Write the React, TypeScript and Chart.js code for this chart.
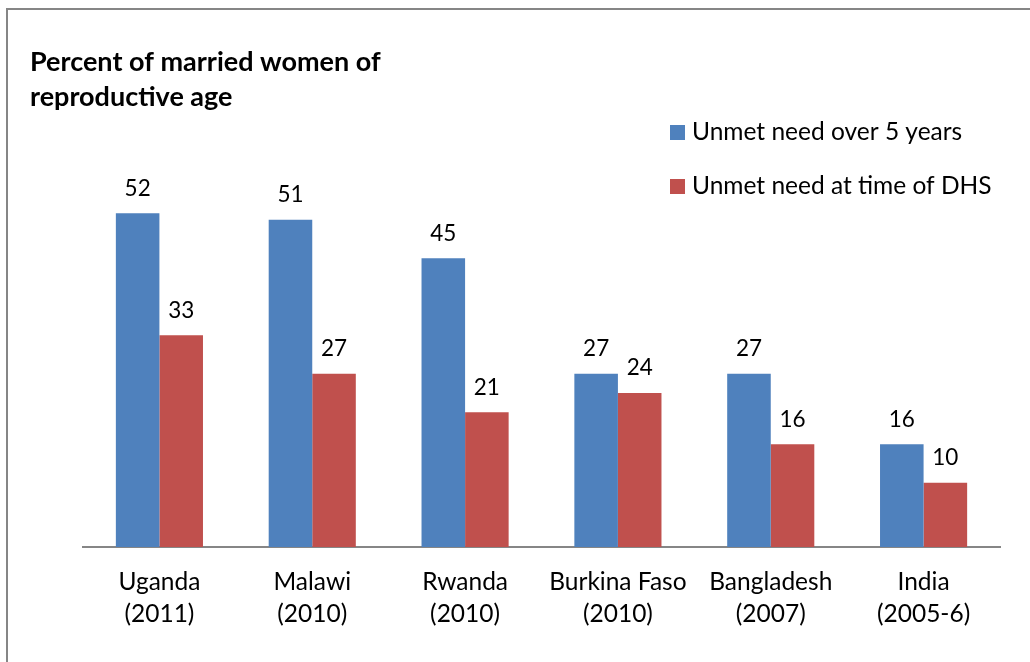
import React, { useEffect, useRef } from "react";
import { Chart, registerables } from "chart.js";

Chart.register(...registerables);

const categories: string[][] = [
  ["Uganda", "(2011)"],
  ["Malawi", "(2010)"],
  ["Rwanda", "(2010)"],
  ["Burkina Faso", "(2010)"],
  ["Bangladesh", "(2007)"],
  ["India", "(2005-6)"],
];
const seriesNames = ["Unmet need over 5 years", "Unmet need at time of DHS"];
const overFiveYears = [52, 51, 45, 27, 27, 16];
const atTimeOfDHS = [33, 27, 21, 24, 16, 10];
const titleLines = ["Percent of married women of", "reproductive age"];
const colors = ["#4F81BD", "#C0504D"];

const FONT = "Lato, 'Open Sans', sans-serif";

const decorPlugin = {
  id: "decor",
  afterDraw(chart: any) {
    const ctx = chart.ctx;
    ctx.save();
    // frame
    ctx.strokeStyle = "#868686";
    ctx.lineWidth = 2;
    ctx.beginPath();
    ctx.moveTo(7, 662);
    ctx.lineTo(7, 9);
    ctx.lineTo(1030, 9);
    ctx.stroke();
    // title
    ctx.fillStyle = "#000";
    ctx.font = `bold 27px ${FONT}`;
    ctx.textAlign = "left";
    ctx.textBaseline = "middle";
    titleLines.forEach((t, i) => ctx.fillText(t, 30, 62 + i * 35));
    // legend
    ctx.font = `24.5px ${FONT}`;
    seriesNames.forEach((n, i) => {
      const cy = 132 + i * 54;
      ctx.fillStyle = colors[i];
      ctx.fillRect(670, cy - 7, 15, 15);
      ctx.fillStyle = "#000";
      ctx.fillText(n, 692, cy);
    });
    // data labels
    ctx.font = `22.5px ${FONT}`;
    ctx.textAlign = "center";
    chart.data.datasets.forEach((ds: any, di: number) => {
      const meta = chart.getDatasetMeta(di);
      meta.data.forEach((bar: any, i: number) => {
        ctx.fillText(String(ds.data[i]), bar.x, bar.y - 25);
      });
    });
    ctx.restore();
  },
};

export default function App() {
  const ref = useRef<HTMLCanvasElement>(null);
  useEffect(() => {
    if (!ref.current) return;
    const chart = new Chart(ref.current, {
      type: "bar",
      data: {
        labels: categories,
        datasets: [
          { label: seriesNames[0], data: overFiveYears, backgroundColor: colors[0] },
          { label: seriesNames[1], data: atTimeOfDHS, backgroundColor: colors[1] },
        ],
      },
      options: {
        responsive: false,
        animation: false,
        layout: { padding: { left: 83, right: 30, top: 162, bottom: 0 } },
        datasets: { bar: { categoryPercentage: 0.57, barPercentage: 1 } },
        plugins: { legend: { display: false }, title: { display: false }, tooltip: { enabled: false } },
        scales: {
          x: {
            grid: { display: false, drawTicks: false },
            border: { display: true, color: "#868686", width: 2 },
            ticks: {
              color: "#000",
              padding: 19,
              maxRotation: 0,
              autoSkip: false,
              font: { family: FONT, size: 24.5, lineHeight: 1.3 },
            },
            afterFit(scale: any) {
              scale.height = 115;
            },
          },
          y: { display: false, min: 0, max: 60 },
        },
      },
      plugins: [decorPlugin],
    });
    return () => chart.destroy();
  }, []);
  return (
    <div style={{ position: "fixed", left: 0, top: 0, width: 1030, height: 662, background: "#fff" }}>
      <canvas ref={ref} width={1030} height={662} />
    </div>
  );
}
